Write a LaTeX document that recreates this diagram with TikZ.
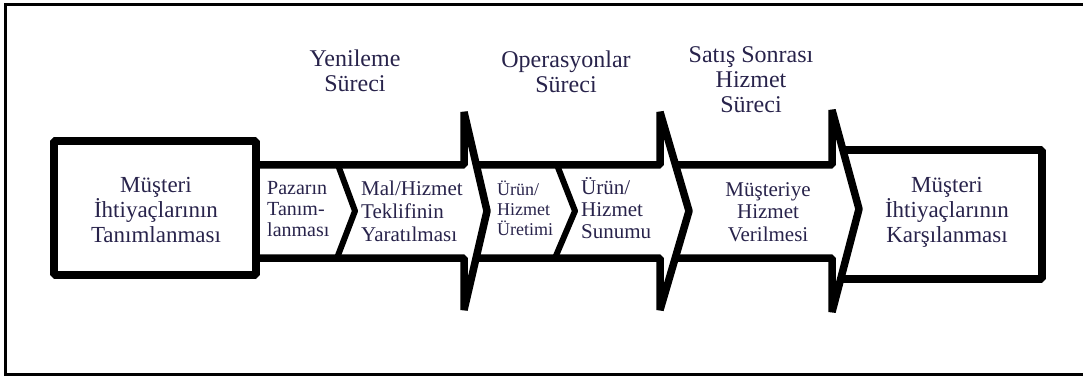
\documentclass[tikz,border=0pt]{standalone}
\usepackage{fontspec}
\setmainfont{Liberation Serif}
\definecolor{txtcol}{RGB}{40,35,75}
\tikzset{
  thickline/.style={line width=7.5pt, line join=bevel},
  lbl/.style={align=center, inner sep=0pt, text=txtcol},
  head/.style={lbl, font=\fontsize{24}{25}\selectfont},
}
\begin{document}
\begin{tikzpicture}[x=1pt,y=-1pt]
  \useasboundingbox (0,0) rectangle (1083,379);
  % frame
  \draw[line width=3pt] (1083,4.5) -- (5,4.5) -- (5,374) -- (1083,374);
  % boxes and arrows
  \draw[thickline] (54,141) rectangle (256,275);
  \draw[thickline] (256,165) -- (464,165) -- (464,112) -- (487,211) -- (464,310) -- (464,258) -- (256,258);
  \draw[thickline] (476,165) -- (660,165) -- (660,112) -- (689,211) -- (660,310) -- (660,258) -- (476,258);
  \draw[thickline] (675,165) -- (832,165) -- (832,110) -- (859,209) -- (832,312) -- (832,258) -- (675,258);
  \draw[thickline] (843,150) -- (1042,150) -- (1042,279) -- (841,279);
  \draw[thickline, line width=6pt] (338,165) -- (355,211) -- (337,258);
  \draw[thickline, line width=6pt] (557,165) -- (575,211) -- (555,258);
  % texts
  \node[lbl, font=\fontsize{23}{25}\selectfont] (need) at (156,210) {Müşteri\\İhtiyaçlarının\\Tanımlanması};
  \node[lbl, align=left, anchor=west, font=\fontsize{20}{21}\selectfont] (market) at (267,209) {Pazarın\\Tanım-\\lanması};
  \node[lbl, align=left, anchor=west, font=\fontsize{21}{23}\selectfont] (offer) at (361,211) {Mal/Hizmet\\Teklifinin\\Yaratılması};
  \node[lbl, align=left, anchor=west, font=\fontsize{18}{20}\selectfont] (make) at (497,208) {Ürün/\\Hizmet\\Üretimi};
  \node[lbl, align=left, anchor=west, font=\fontsize{21}{22}\selectfont] (deliver) at (581,208) {Ürün/\\Hizmet\\Sunumu};
  \node[lbl, font=\fontsize{21}{22.5}\selectfont] (serve) at (768,212) {Müşteriye\\Hizmet\\Verilmesi};
  \node[lbl, font=\fontsize{23}{25}\selectfont] (met) at (947,212) {Müşteri\\İhtiyaçlarının\\Karşılanması};
  \node[head] (renew) at (355,71) {Yenileme\\Süreci};
  \node[head] (ops) at (566,72) {Operasyonlar\\Süreci};
  \node[head] (after) at (751,80) {Satış Sonrası\\Hizmet\\Süreci};
\end{tikzpicture}
\end{document}
